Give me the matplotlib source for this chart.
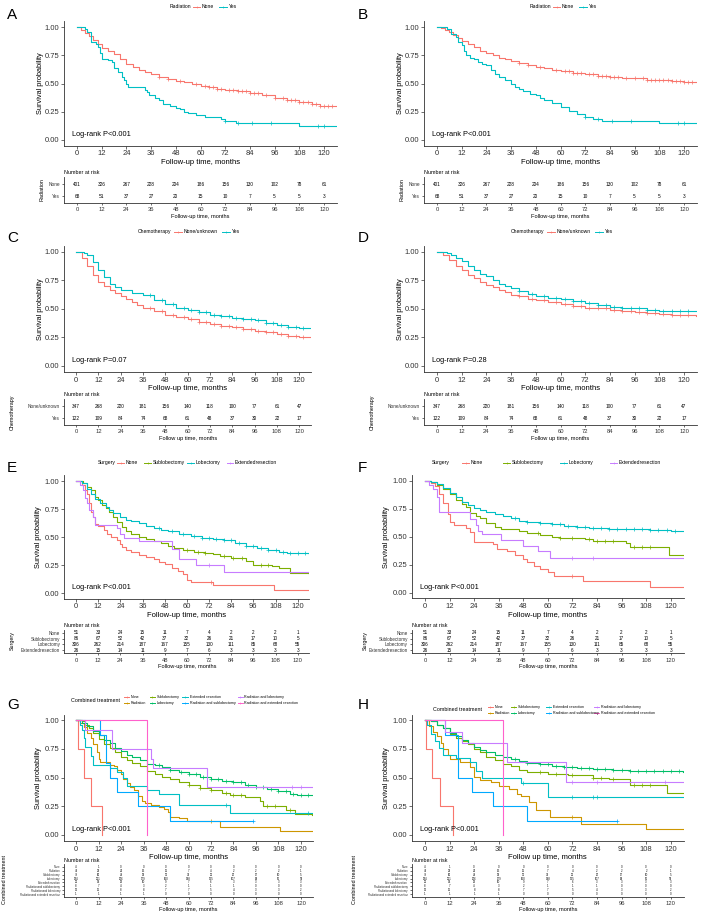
import numpy as np
import matplotlib
matplotlib.use("Agg")
import matplotlib.pyplot as plt
from matplotlib.lines import Line2D

W, H = 719, 916
plt.rcParams['font.family'] = ['Liberation Sans', 'DejaVu Sans']

RED, CYAN = '#F8766D', '#00BFC4'
C4 = ['#F8766D', '#7CAE00', '#00BFC4', '#C77CFF']
C8 = ['#F8766D', '#CD9600', '#7CAE00', '#00BE67', '#00BFC4', '#00A9FF', '#C77CFF', '#FF61CC']

RISK_TIMES = [0, 12, 24, 36, 48, 60, 72, 84, 96, 108, 120]

# ---------- A / B : radiation ----------
A_none = [(0, 1), (2, .975), (4, .95), (6, .92), (8, .885), (10, .85), (12, .815), (15, .79), (18, .76),
          (21, .72), (24, .675), (27, .645), (30, .62), (33, .60), (36, .58), (40, .56), (44, .54),
          (48, .52), (52, .51), (56, .495), (60, .48), (64, .47), (68, .455), (72, .44), (78, .43),
          (84, .415), (90, .395), (96, .375), (102, .35), (108, .335), (114, .32), (118, .305), (126, .30)]
A_yes = [(0, 1), (4, .985), (5, .955), (7, .87), (9, .85), (10, .82), (11, .77), (12, .72), (15, .705),
         (17, .69), (18, .635), (20, .60), (22, .56), (23, .53), (24, .50), (25, .47), (33, .44), (34, .425),
         (35, .395), (38, .37), (40, .35), (42, .32), (45, .30), (48, .285), (50, .27), (52, .25), (54, .235),
         (58, .22), (62, .20), (70, .185), (72, .17), (77, .15), (108, .12), (126, .12)]
A_none_cens = [40, 44, 50, 58, 62, 64, 66, 68, 70, 74, 76, 78, 80, 82, 84, 86, 88, 92, 96, 100, 102,
               104, 106, 108, 110, 112, 114, 116, 118, 120, 122, 124]
A_yes_cens = [72, 78, 85, 94, 117, 120]

B_none = [(0, 1), (2, .99), (4, .975), (6, .955), (8, .93), (10, .90), (12, .88), (15, .85), (18, .82),
          (21, .79), (24, .77), (27, .75), (30, .73), (33, .715), (36, .70), (40, .685), (44, .665),
          (48, .65), (52, .635), (56, .62), (60, .61), (66, .595), (72, .58), (78, .57), (84, .56),
          (90, .55), (96, .545), (102, .535), (108, .53), (114, .52), (120, .515), (126, .515)]
B_yes = [(0, 1), (5, .985), (7, .94), (9, .91), (10, .87), (12, .84), (13, .79), (14, .75), (16, .73),
         (18, .72), (20, .69), (22, .67), (24, .66), (26, .62), (28, .58), (30, .555), (33, .53), (36, .50),
         (38, .47), (40, .45), (42, .43), (45, .41), (48, .40), (50, .37), (52, .35), (56, .33), (60, .29),
         (64, .26), (68, .23), (72, .20), (76, .19), (80, .17), (108, .15), (126, .15)]
B_none_cens = A_none_cens
B_yes_cens = [72, 78, 85, 94, 117, 120]

RAD_LABELS = ['None', 'Yes']
RAD_RISK_NONE = [401, 326, 267, 228, 204, 186, 156, 130, 102, 78, 61]
RAD_RISK_YES = [68, 51, 37, 27, 20, 15, 10, 7, 5, 5, 3]

# ---------- C / D : chemotherapy ----------
C_none = [(0, 1), (3, .95), (6, .88), (9, .80), (12, .74), (15, .70), (18, .67), (21, .64), (24, .61),
          (27, .585), (30, .56), (33, .535), (36, .51), (42, .48), (48, .45), (54, .43), (60, .41),
          (66, .39), (72, .37), (78, .355), (84, .34), (90, .325), (96, .31), (102, .295), (108, .28),
          (114, .265), (120, .25), (126, .25)]
C_yes = [(0, 1), (4.5, .99), (6, .97), (9, .91), (12, .84), (15, .78), (18, .72), (21, .69), (24, .67),
         (30, .64), (36, .62), (42, .58), (48, .54), (54, .51), (60, .49), (66, .47), (72, .45), (78, .435),
         (84, .42), (90, .41), (96, .40), (102, .38), (108, .36), (114, .345), (120, .33), (126, .33)]
D_none = [(0, 1), (3, .97), (6, .93), (9, .88), (12, .84), (15, .80), (18, .77), (21, .74), (24, .71),
          (27, .69), (30, .665), (33, .645), (36, .625), (40, .61), (44, .59), (48, .575), (54, .56),
          (60, .54), (66, .525), (72, .51), (78, .505), (84, .495), (90, .485), (96, .475), (102, .465),
          (108, .455), (114, .45), (120, .445), (126, .44)]
D_yes = [(0, 1), (5, .99), (7, .97), (9, .95), (12, .92), (15, .88), (18, .84), (21, .81), (24, .79),
         (27, .75), (30, .72), (33, .70), (36, .68), (40, .655), (44, .63), (48, .61), (54, .60), (60, .585),
         (66, .57), (72, .55), (78, .535), (84, .52), (90, .51), (96, .505), (102, .495), (108, .485),
         (114, .48), (126, .48)]
CH_cens = [40, 46, 52, 58, 62, 66, 70, 74, 78, 82, 86, 90, 94, 98, 102, 106, 110, 114, 118, 122]
CH_LABELS = ['None/unknown', 'Yes']
CH_RISK_NONE = [347, 268, 220, 181, 156, 140, 118, 100, 77, 61, 47]
CH_RISK_YES = [122, 109, 84, 74, 68, 61, 48, 37, 30, 22, 17]

# ---------- E / F : surgery ----------
E_none = [(0, 1), (3, .96), (5, .92), (6, .88), (7, .80), (8, .72), (9, .68), (10, .62), (12, .60),
          (15, .56), (17, .53), (19, .50), (22, .47), (24, .44), (25, .41), (27, .385), (30, .37),
          (34, .34), (38, .32), (42, .30), (45, .28), (48, .26), (52, .22), (55, .20), (58, .17),
          (60, .12), (62, .10), (74, .07), (107, .03), (126, .03)]
E_sub = [(0, 1), (4, .98), (6, .95), (8, .92), (10, .86), (12, .83), (14, .79), (16, .76), (18, .72),
         (20, .68), (22, .63), (25, .59), (27, .55), (30, .53), (34, .50), (38, .48), (42, .46), (46, .45),
         (50, .42), (53, .40), (58, .38), (64, .365), (70, .36), (74, .345), (78, .33), (84, .31),
         (92, .29), (96, .25), (106, .24), (110, .22), (116, .18), (126, .17)]
E_lob = [(0, 1), (3, .98), (6, .93), (8, .88), (10, .84), (13, .80), (16, .77), (18, .74), (20, .71),
         (24, .68), (27, .655), (30, .64), (34, .625), (38, .60), (42, .58), (46, .56), (50, .55),
         (56, .53), (62, .51), (68, .49), (74, .48), (80, .47), (86, .45), (92, .42), (98, .40),
         (104, .38), (110, .365), (114, .355), (126, .35)]
E_ext = [(0, 1), (2, .96), (4, .92), (5, .85), (6, .80), (7, .74), (9, .68), (10, .61), (22, .58),
         (24, .53), (26, .49), (34, .46), (52, .39), (56, .30), (65, .25), (80, .19), (126, .19)]
E_cens = [[73], [60, 66, 70, 80, 85, 90, 100, 104],
          [45, 52, 58, 64, 68, 72, 76, 80, 84, 88, 92, 96, 100, 104, 108, 112, 116, 120, 124], [72]]

F_none = [(0, 1), (3, .98), (5, .95), (7, .88), (9, .80), (11, .70), (12, .63), (14, .60), (20, .58),
          (22, .54), (24, .45), (33, .43), (35, .39), (40, .37), (44, .34), (48, .30), (50, .27),
          (53, .24), (56, .21), (60, .18), (63, .15), (77, .10), (110, .05), (126, .05)]
F_sub = [(0, 1), (3, .99), (6, .96), (9, .92), (12, .88), (15, .83), (18, .79), (20, .76), (22, .71),
         (25, .68), (27, .665), (30, .62), (34, .59), (37, .57), (46, .55), (50, .53), (56, .51),
         (62, .50), (66, .485), (78, .48), (82, .465), (98, .44), (100, .41), (118, .41), (119, .34),
         (126, .34)]
F_lob = [(0, 1), (3, .99), (6, .97), (9, .93), (12, .89), (15, .85), (18, .81), (21, .78), (24, .755),
         (27, .735), (30, .72), (34, .70), (38, .685), (42, .67), (46, .64), (50, .63), (56, .62),
         (62, .61), (68, .595), (74, .585), (80, .575), (90, .57), (100, .565), (110, .555), (120, .55),
         (126, .55)]
F_ext = [(0, 1), (2, .96), (4, .92), (6, .85), (7, .715), (22, .66), (25, .60), (26, .55), (28, .52),
         (37, .47), (48, .42), (55, .37), (61, .31), (126, .31)]
F_cens = [[72], [55, 66, 72, 80, 84, 88, 92, 102, 106, 110],
          [44, 50, 56, 62, 66, 70, 74, 78, 82, 86, 90, 94, 98, 102, 106, 110, 114, 118, 122], [72, 82]]

SURG_LABELS = ['None', 'Sublobectomy', 'Lobectomy', 'Extendedresection']
SURG_RISK = [[51, 33, 24, 15, 11, 7, 4, 2, 2, 2, 1],
             [86, 67, 52, 42, 37, 32, 26, 21, 17, 10, 5],
             [306, 262, 214, 187, 167, 155, 130, 111, 85, 68, 55],
             [26, 15, 14, 11, 9, 7, 6, 3, 3, 3, 3]]

# ---------- G / H : combined treatment ----------
G_curves = [
    [(0, 1), (1, .75), (4, .5), (8, .25), (14, 0)],
    [(0, 1), (2, .98), (4, .94), (6, .89), (8, .85), (9, .79), (11, .72), (12, .66), (13, .64), (18, .61),
     (20, .60), (22, .57), (24, .53), (25, .49), (27, .45), (29, .42), (31, .39), (33, .34), (35, .30),
     (37, .28), (40, .26), (44, .245), (47, .23), (49, .20), (50, .16), (55, .145), (59, .125),
     (77, .07), (109, .035), (126, .035)],
    [(0, 1), (3, .99), (5, .96), (7, .93), (9, .89), (12, .84), (15, .79), (18, .76), (21, .72), (24, .68),
     (27, .65), (30, .63), (34, .60), (38, .56), (42, .53), (46, .51), (50, .49), (55, .46), (60, .44),
     (66, .41), (72, .39), (78, .37), (82, .35), (90, .33), (98, .30), (100, .25), (112, .22), (117, .18),
     (126, .175)],
    [(0, 1), (3, .98), (6, .95), (9, .91), (12, .87), (15, .83), (18, .80), (21, .76), (24, .73), (27, .70),
     (30, .68), (34, .65), (38, .62), (42, .61), (46, .59), (50, .57), (55, .55), (60, .53), (66, .51),
     (72, .49), (78, .475), (84, .46), (90, .44), (96, .42), (102, .40), (108, .385), (114, .36),
     (118, .35), (126, .345)],
    [(0, 1), (2, .96), (3, .92), (4, .85), (5, .77), (8, .69), (9, .61), (18, .58), (22, .55), (25, .50),
     (27, .43), (38, .39), (44, .36), (55, .26), (82, .19), (126, .19)],
    [(0, 1), (13, .875), (16, .625), (18, .50), (22, .375), (33, .25), (50, .125), (94.5, .125)],
    [(0, 1), (5, .917), (19, .75), (40, .667), (41, .583), (70, .417), (126, .417)],
    [(0, 1), (38, 1), (38, 0)],
]
G_cens = [[], [72], [60, 66, 72, 80, 84, 88, 102, 106, 114],
          [44, 50, 56, 60, 64, 68, 72, 76, 80, 84, 88, 92, 96, 100, 104, 108, 112, 116, 120, 124],
          [80, 124], [94.5], [115, 120], []]

H_curves = [
    [(0, 1), (0.5, .75), (3.3, .5), (7.3, .25), (13.8, 0)],
    [(0, 1), (2, .95), (4, .90), (6, .86), (8, .80), (9, .75), (11, .70), (12, .66), (17, .64), (22, .59),
     (24, .51), (27, .48), (32, .46), (36, .43), (41, .40), (45, .36), (47, .34), (51, .29), (54, .22),
     (61, .16), (76, .10), (108, .05), (126, .05)],
    [(0, 1), (3, .99), (6, .96), (9, .93), (12, .88), (15, .85), (18, .82), (21, .79), (24, .75), (27, .72),
     (30, .68), (34, .65), (38, .62), (42, .60), (46, .57), (50, .545), (60, .53), (70, .52), (82, .50),
     (90, .49), (100, .44), (118, .37), (126, .37)],
    [(0, 1), (3, .99), (6, .96), (9, .93), (12, .89), (15, .86), (18, .83), (21, .80), (24, .77), (27, .74),
     (30, .72), (34, .70), (38, .68), (42, .66), (46, .645), (50, .63), (56, .62), (62, .605), (68, .595),
     (74, .585), (82, .575), (92, .565), (100, .56), (110, .555), (126, .55)],
    [(0, 1), (1, .96), (3, .88), (5, .82), (7, .76), (9, .70), (15, .67), (22, .64), (25, .56), (28, .50),
     (47, .45), (60, .33), (126, .33)],
    [(0, 1), (10, .875), (16, .5), (23, .375), (33, .25), (50, .125), (94, .125)],
    [(0, 1), (10, .9), (18, .8), (40, .64), (69, .46), (126, .46)],
    [(0, 1), (38, 1), (38, 0)],
]
H_cens = [[], [72], [56, 64, 72, 82, 86, 92, 102, 106, 110],
          [44, 50, 56, 60, 64, 68, 72, 76, 80, 84, 88, 92, 96, 100, 104, 108, 112, 116, 120, 124],
          [48, 72, 82, 84], [94], [72, 84, 117], []]

COMB_LEGEND = ['None', 'Radiation', 'Sublobectomy', 'Lobectomy', 'Extended resection',
               'Radiation and sublobectomy', 'Radiation and lobectomy', 'Radiation and extended resection']
COMB_LABELS = ['None', 'Radiation', 'Sublobectomy', 'Lobectomy', 'Extendedresection',
               'Radiationand sublobectomy', 'Radiationand lobectomy', 'Radiationand extended resection']
COMB_RISK = [[4, 1, 0, 0, 0, 0, 0, 0, 0, 0, 0],
             [47, 32, 24, 15, 11, 7, 4, 2, 2, 2, 1],
             [78, 60, 48, 39, 35, 31, 25, 20, 17, 10, 5],
             [294, 251, 206, 179, 160, 148, 125, 107, 82, 65, 53],
             [25, 14, 13, 10, 9, 7, 6, 3, 3, 3, 3],
             [8, 7, 4, 3, 2, 1, 1, 1, 0, 0, 0],
             [12, 11, 8, 8, 7, 7, 5, 4, 3, 3, 2],
             [1, 1, 1, 1, 0, 0, 0, 0, 0, 0, 0]]

fig = plt.figure(figsize=(W / 100, H / 100), dpi=100)
DARK = '#333333'


def box(l, t, r, b):
    return fig.add_axes([l / W, 1 - b / H, (r - l) / W, (b - t) / H])


def ftext(x, y, s, **kw):
    fig.text(x / W, 1 - y / H, s, **kw)


def key(x1, x2, y, color):
    fig.add_artist(Line2D([x1 / W, x2 / W], [1 - y / H] * 2, color=color, lw=0.7,
                          transform=fig.transFigure))
    fig.add_artist(Line2D([(x1 + x2) / 2 / W], [1 - y / H], color=color, marker='+', ms=2, mew=0.4,
                          transform=fig.transFigure))


def km(ax, pts, cens, color):
    t = np.array([p[0] for p in pts], float)
    s = np.array([p[1] for p in pts], float)
    ax.step(t, s, where='post', color=color, lw=0.8)
    if cens:
        c = np.array(cens, float)
        idx = np.searchsorted(t, c, side='right') - 1
        ax.plot(c, s[idx], '+', color=color, ms=2.5, mew=0.5)


def style(ax, fs, length=2):
    for sp in ['top', 'right']:
        ax.spines[sp].set_visible(False)
    for sp in ['left', 'bottom']:
        ax.spines[sp].set_color(DARK)
        ax.spines[sp].set_linewidth(0.6)
    ax.tick_params(labelsize=fs, length=length, width=0.5, colors=DARK, pad=1.5)
    ax.set_xlim(-6.3, 126.3)
    ax.set_xticks(RISK_TIMES)


def plot_panel(geo, curves, cens, colors, ptext, xlabel):
    ax = box(*geo)
    for pts, cc, col in zip(curves, cens, colors):
        km(ax, pts, cc, col)
    style(ax, 5.5)
    ax.set_ylim(-0.05, 1.05)
    ax.set_yticks([0, 0.25, 0.5, 0.75, 1.0])
    ax.set_yticklabels(['0.00', '0.25', '0.50', '0.75', '1.00'])
    ax.set_xlabel(xlabel, fontsize=5.5, labelpad=1)
    ax.text(-2.3, 0.045, ptext, fontsize=5.3, ha='left', va='center')
    return ax


def table(geo, labels, counts, fs, lfs, xlabel):
    ax = box(*geo)
    n = len(labels)
    ys = np.arange(n)[::-1]
    for y, row in zip(ys, counts):
        for t, c in zip(RISK_TIMES, row):
            ax.text(t, y, str(c), ha='center', va='center', fontsize=fs)
    style(ax, 4.2, length=1.5)
    ax.set_ylim(-0.6, n - 0.4)
    ax.set_yticks(ys)
    ax.set_yticklabels(labels)
    ax.tick_params(axis='y', labelsize=lfs)
    ax.set_xlabel(xlabel, fontsize=4.1, labelpad=1)
    ax.set_title('Number at risk', loc='left', fontsize=3.9, pad=2)
    return ax


def tbox(l, r, first, last, n):
    sp = (last - first) / (n - 1)
    return (l, first - 0.6 * sp, r, last + 0.6 * sp)


FU = 'Follow-up time, months'
FU2 = 'Follow up time, months'

# A
plot_panel((64, 21.4, 337, 145.6), [A_none, A_yes], [A_none_cens, A_yes_cens], [RED, CYAN],
           'Log-rank P<0.001', FU)
table(tbox(64, 337, 184, 196, 2), RAD_LABELS, [RAD_RISK_NONE, RAD_RISK_YES], 3.4, 3.4, FU)
# B
plot_panel((424, 21.4, 697, 145.6), [B_none, B_yes], [B_none_cens, B_yes_cens], [RED, CYAN],
           'Log-rank P<0.001', FU)
table(tbox(424, 697, 184, 196, 2), RAD_LABELS, [RAD_RISK_NONE, RAD_RISK_YES], 3.4, 3.4, FU)
# C
plot_panel((64.3, 246.3, 311, 371.7), [C_none, C_yes], [CH_cens, CH_cens], [RED, CYAN],
           'Log-rank P=0.07', FU)
table(tbox(64.3, 311, 406, 418, 2), CH_LABELS, [CH_RISK_NONE, CH_RISK_YES], 3.4, 3.4, FU2)
# D
plot_panel((424, 246.3, 697, 371.7), [D_none, D_yes], [CH_cens, CH_cens], [RED, CYAN],
           'Log-rank P=0.28', FU)
table(tbox(424, 697, 406, 418, 2), CH_LABELS, [CH_RISK_NONE, CH_RISK_YES], 3.4, 3.4, FU2)
# E
plot_panel((64.4, 475.4, 309.3, 598.6), [E_none, E_sub, E_lob, E_ext], E_cens, C4,
           'Log-rank P<0.001', FU)
table(tbox(64.4, 309.3, 633, 650, 4), SURG_LABELS, SURG_RISK, 3.3, 3.3, FU)
# F
plot_panel((412.1, 474.9, 683.6, 598.3), [F_none, F_sub, F_lob, F_ext], F_cens, C4,
           'Log-rank P<0.001', FU)
table(tbox(412.1, 683.6, 633, 650, 4), SURG_LABELS, SURG_RISK, 3.3, 3.3, FU)
# G
plot_panel((64.2, 714.6, 312.8, 840.7), G_curves, G_cens, C8, 'Log-rank P<0.001', FU)
table(tbox(64.2, 312.8, 866.7, 894.3, 8), COMB_LABELS, COMB_RISK, 2.0, 2.0, FU)
# H
plot_panel((412.1, 714.6, 683.6, 840.7), H_curves, H_cens, C8, 'Log-rank P<0.001', FU2)
table(tbox(412.1, 683.6, 866.7, 894.3, 8), COMB_LABELS, COMB_RISK, 2.0, 2.0, FU)

# y labels
for x, y in [(40, 83), (400, 83), (40, 309), (400, 309), (38, 537), (387, 537), (38, 778), (387, 778)]:
    ftext(x, y, 'Survival probability', rotation=90, ha='center', va='center', fontsize=5.3)
for x, y, s in [(42.5, 190, 'Radiation'), (402.5, 190, 'Radiation'),
                (12, 412, 'Chemotherapy'), (372, 412, 'Chemotherapy'),
                (12, 641, 'Surgery'), (365, 641, 'Surgery'),
                (5, 880, 'Combined treatment'), (355, 880, 'Combined treatment')]:
    ftext(x, y, s, rotation=90, ha='center', va='center', fontsize=3.9)

# panel letters
for x, y, s in [(7, 15, 'A'), (358, 15, 'B'), (7, 238, 'C'), (358, 238, 'D'),
                (7, 468, 'E'), (358, 468, 'F'), (7, 705, 'G'), (358, 705, 'H')]:
    ftext(x, y, s, ha='left', va='center', fontsize=11)

# legends
LFS = 3.6
def legend(title, tx, y, items):
    ftext(tx, y, title, ha='left', va='center', fontsize=LFS)
    for lab, col, x1, x2 in items:
        key(x1, x2, y, col)
        ftext(x2 + 2, y, lab, ha='left', va='center', fontsize=LFS)

legend('Radiation', 170, 7, [('None', RED, 193, 200), ('Yes', CYAN, 219, 227)])
legend('Radiation', 530, 7, [('None', RED, 553, 560), ('Yes', CYAN, 579, 587)])
legend('Chemotherapy', 138, 232, [('None/unknown', RED, 174, 182), ('Yes', CYAN, 222, 230)])
legend('Chemotherapy', 511, 232, [('None/unknown', RED, 547, 555), ('Yes', CYAN, 595, 603)])
legend('Surgery', 98, 462.7, [(l, c, a, b) for l, c, a, b in
                               zip(SURG_LABELS, C4, [117, 144, 187, 227], [124, 151, 194, 233])])
legend('Surgery', 432, 462.7, [(l, c, a, b) for l, c, a, b in
                                zip(SURG_LABELS, C4, [462, 503, 560, 610], [469, 510, 567, 617])])

def legend8(tx, ty, rows_y, cols_x):
    ftext(tx, ty, 'Combined treatment', ha='left', va='center', fontsize=3.9)
    for i, (lab, col) in enumerate(zip(COMB_LEGEND, C8)):
        x1 = cols_x[i // 2]
        y = rows_y[i % 2]
        key(x1, x1 + 5, y, col)
        ftext(x1 + 7, y, lab, ha='left', va='center', fontsize=2.6)

legend8(71, 700, (697.3, 703.3), (124, 149.5, 182.5, 237.5))
legend8(433, 709.3, (706.7, 712.7), (487.5, 511, 546, 594))

fig.savefig('out.png', dpi=100)
